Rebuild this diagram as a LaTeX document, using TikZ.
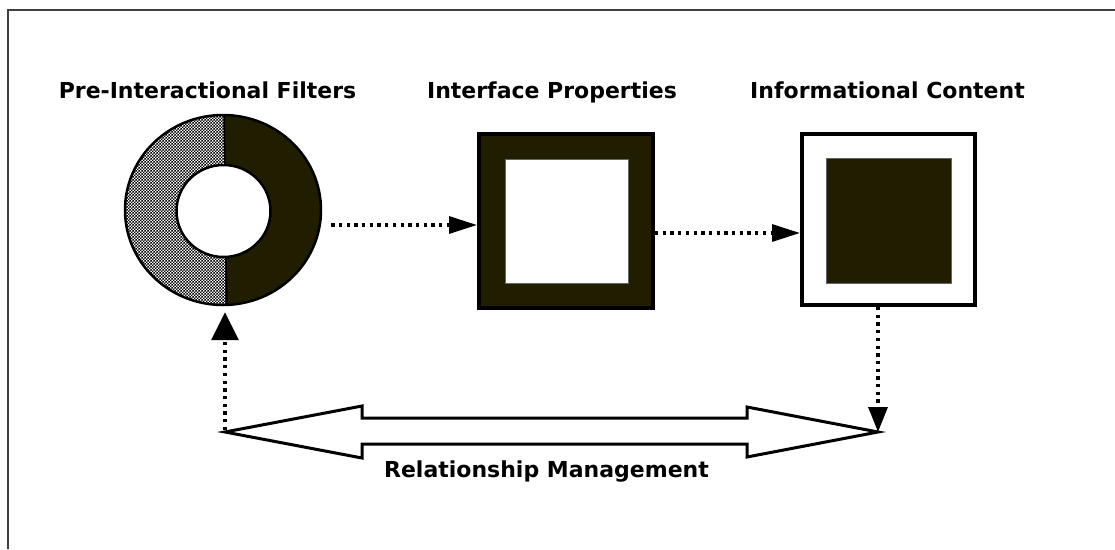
\documentclass[tikz,border=0pt]{standalone}
\usepackage{fontspec}
\setmainfont{DejaVu Sans}
\usetikzlibrary{arrows.meta,patterns,shapes.geometric,calc}
\definecolor{darkfill}{RGB}{32,29,0}
\pgfdeclarepatternformonly{finecheck}{\pgfpointorigin}{\pgfqpoint{3.4pt}{3.4pt}}{\pgfqpoint{3.4pt}{3.4pt}}{%
  \pgfpathrectangle{\pgfpointorigin}{\pgfqpoint{1.7pt}{1.7pt}}%
  \pgfpathrectangle{\pgfqpoint{1.7pt}{1.7pt}}{\pgfqpoint{1.7pt}{1.7pt}}%
  \pgfusepath{fill}}
\begin{document}
\begin{tikzpicture}[x=1pt,y=-1pt,
  lbl/.style={font=\fontsize{22}{26}\selectfont\bfseries, anchor=base, inner sep=0pt},
  dotline/.style={line width=3.3pt, dash pattern=on 3.3pt off 4.4pt},
  dotarrow/.style={dotline, -{Triangle[length=28pt,width=17pt]}},
  dotarrowup/.style={dotline, -{Triangle[length=28pt,width=27pt]}},
  dotarrowdown/.style={dotline, -{Triangle[length=25pt,width=19pt]}},
  frame/.style={draw=black, line width=4pt, inner sep=0pt},
]
\useasboundingbox (0,0) rectangle (1115,549);
\draw[line width=1.7pt, black!75] (8,549) -- (8,10) -- (1115,10);

% labels
\node[lbl] (t1) at (207.5,98) {Pre-Interactional Filters};
\node[lbl] (t2) at (552,98) {Interface Properties};
\node[lbl] (t3) at (887.5,98) {Informational Content};
\node[lbl] (t4) at (546.5,477) {Relationship Management};

% donut
\node[ellipse, minimum width=196pt, minimum height=190pt, inner sep=0pt] (pf) at (223,210) {};
\fill[white] (pf.center) ellipse [x radius=98, y radius=95];
\fill[pattern=finecheck, pattern color=black] (pf.center) ellipse [x radius=98, y radius=95];
\begin{scope}
  \clip (225,100) rectangle (330,320);
  \fill[darkfill] (pf.center) ellipse [x radius=98, y radius=95];
\end{scope}
\draw[line width=2.5pt] (pf.center) ellipse [x radius=98, y radius=95];
\draw[line width=1.5pt] (224,115) -- (225,170);
\draw[line width=1.5pt] (226,252) -- (227,304);
\draw[line width=2.5pt, fill=white] (223.5,211) ellipse [x radius=47, y radius=46];

% interface box
\node[frame, fill=darkfill, minimum width=174pt, minimum height=174pt] (ip) at (566,221) {};
\node[fill=white, draw=black!60, line width=0.6pt, inner sep=0pt, minimum width=123pt, minimum height=124pt] (ipin) at (566.5,221) {};

% content box
\node[frame, fill=white, minimum width=173pt, minimum height=171pt] (ic) at (888.5,219.5) {};
\node[fill=darkfill, draw=black!60, line width=0.6pt, inner sep=0pt, minimum width=125pt, minimum height=125pt] (icin) at (888.5,220.5) {};

% double arrow
\coordinate (la) at (225,432);
\coordinate (ra) at (878,432);
\draw[line width=3pt, fill=white, line join=miter]
  (la) -- ++(137,-26) -- ++(0,12) -- ($(ra)+(-131,-14)$) -- ++(0,-11)
  -- (ra) -- ++(-131,25) -- ++(0,-13) -- ($(la)+(137,12)$) -- ++(0,14) -- cycle;

% connectors
\draw[dotarrow] ([xshift=10pt,yshift=-15pt]pf.east) -- ([yshift=-4pt]ip.west);
\draw[dotarrow] ([yshift=-12pt]ip.east) -- ([yshift=-13.5pt]ic.west);
\draw[dotarrowup, shorten >=7pt] ([yshift=2pt]la) -- (la |- pf.south);
\draw[dotarrowdown] (ic.south -| ra) -- (ra);
\end{tikzpicture}
\end{document}
